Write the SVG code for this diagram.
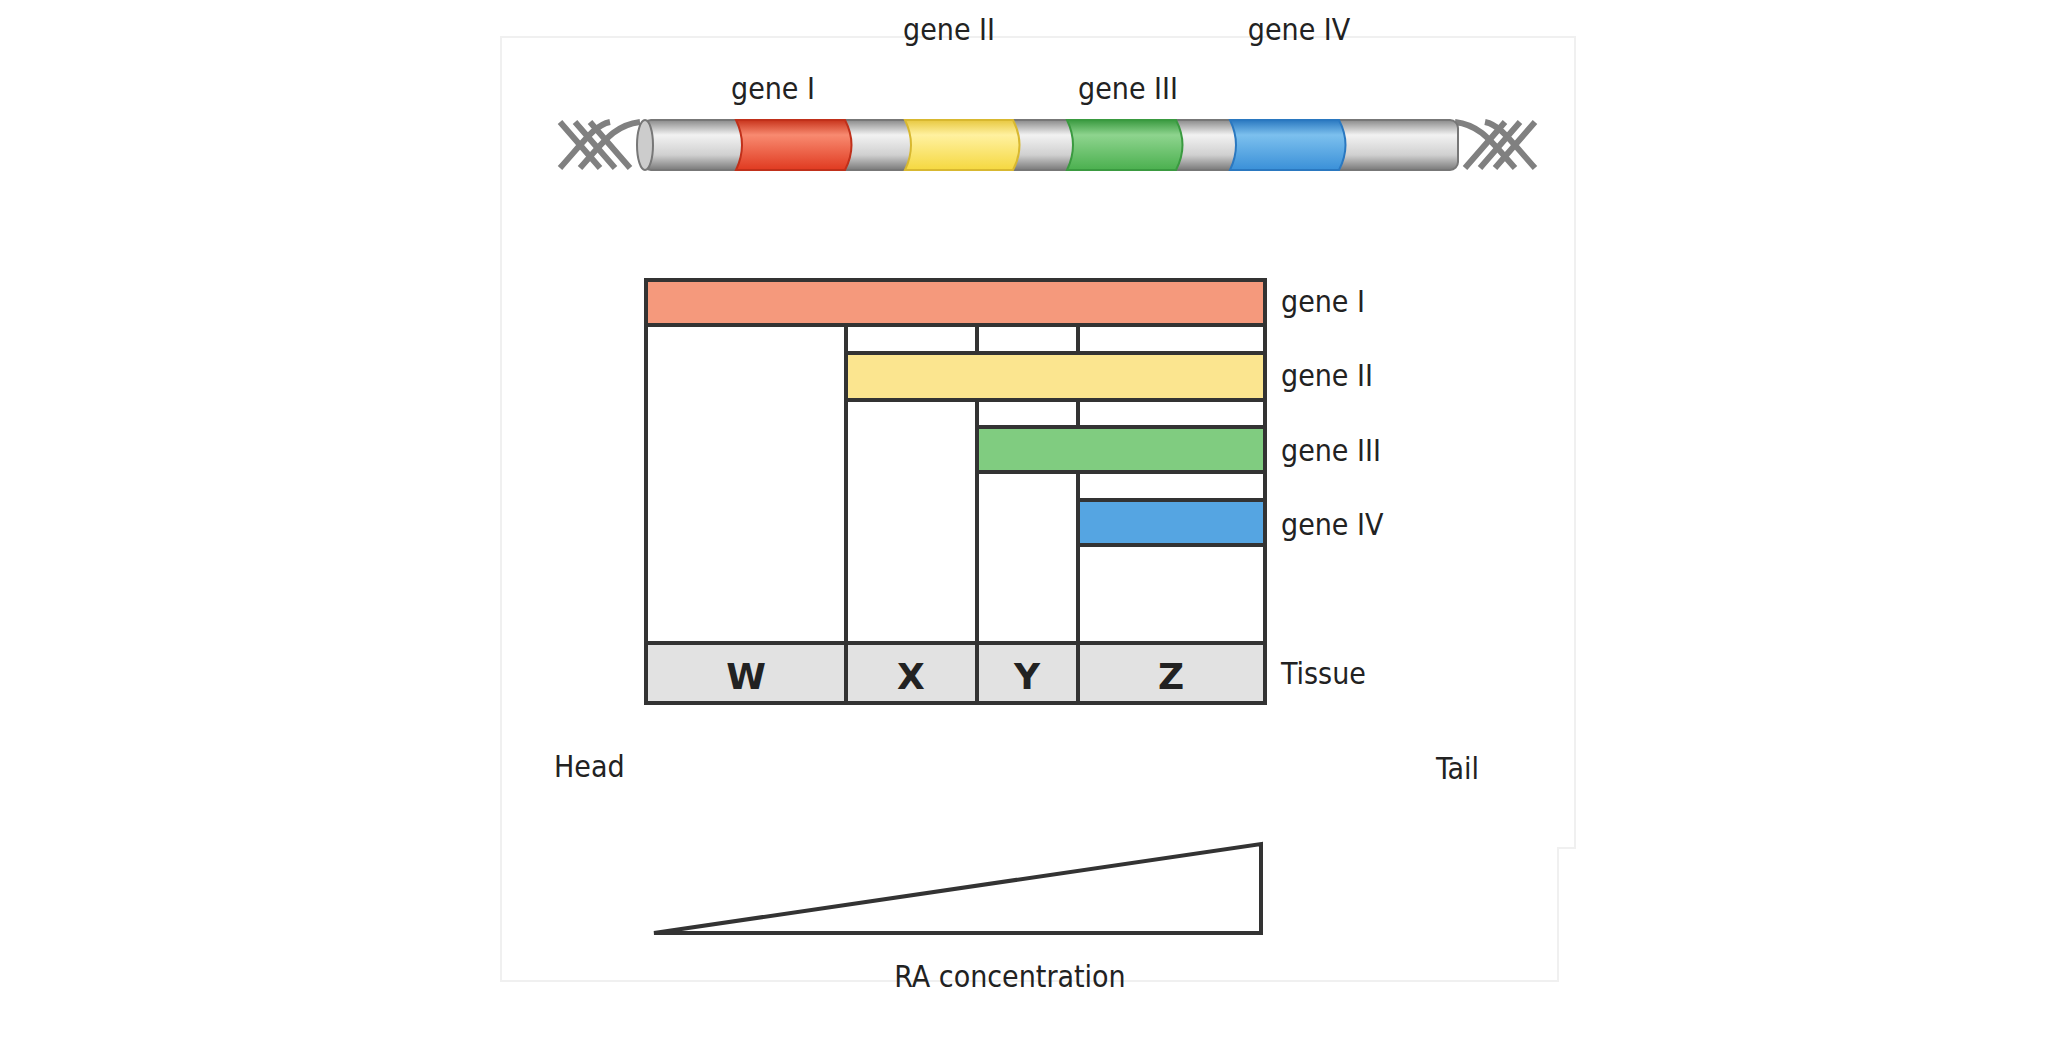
<svg xmlns="http://www.w3.org/2000/svg" width="2068" height="1050" viewBox="0 0 2068 1050">
<defs>
<linearGradient id="gGray" x1="0" y1="0" x2="0" y2="1"><stop offset="0" stop-color="#8a8a8a"/><stop offset="0.3" stop-color="#f2f2f2"/><stop offset="0.7" stop-color="#d0d0d0"/><stop offset="1" stop-color="#7a7a7a"/></linearGradient>
<linearGradient id="gRed" x1="0" y1="0" x2="0" y2="1"><stop offset="0" stop-color="#c8341c"/><stop offset="0.3" stop-color="#f88a70"/><stop offset="1" stop-color="#e03a20"/></linearGradient>
<linearGradient id="gYel" x1="0" y1="0" x2="0" y2="1"><stop offset="0" stop-color="#e8c840"/><stop offset="0.3" stop-color="#fff1a0"/><stop offset="1" stop-color="#f5d840"/></linearGradient>
<linearGradient id="gGrn" x1="0" y1="0" x2="0" y2="1"><stop offset="0" stop-color="#3a9a40"/><stop offset="0.3" stop-color="#8ed48e"/><stop offset="1" stop-color="#4bb04f"/></linearGradient>
<linearGradient id="gBlu" x1="0" y1="0" x2="0" y2="1"><stop offset="0" stop-color="#2a78c0"/><stop offset="0.3" stop-color="#7cc0ee"/><stop offset="1" stop-color="#3a90d8"/></linearGradient>
</defs>
<style>
text{font-family:"DejaVu Sans Condensed","DejaVu Sans",sans-serif;font-size:30px;fill:#222}
.b{font-family:"DejaVu Sans","Liberation Sans",sans-serif;font-weight:bold;font-size:36px;text-anchor:middle}
.c{text-anchor:middle}
.ln{stroke:#333;stroke-width:4}
.helix{stroke:#808080;stroke-width:6;fill:none}
</style>
<rect width="2068" height="1050" fill="#fff"/>
<path d="M501 37H1575V848H1558V981H501Z" fill="none" stroke="#f0f0f0" stroke-width="2"/>

<g id="chromosome">
<g class="helix">
<path d="M560 122 L600 168 M575 122 L615 168 M590 122 L630 168"/>
<path d="M560 168 C585 140 595 125 610 122 M580 168 C605 140 615 125 640 122"/>
<path d="M1535 122 L1495 168 M1520 122 L1480 168 M1505 122 L1465 168"/>
<path d="M1535 168 C1510 140 1500 125 1485 122 M1515 168 C1490 140 1480 125 1455 122"/>
</g>
<rect x="643" y="120" width="815" height="50" rx="8" fill="url(#gGray)" stroke="#777" stroke-width="2"/>
<ellipse cx="645" cy="145" rx="8" ry="25" fill="#ccc" stroke="#777" stroke-width="2"/>
<path d="M736 120H845Q858 145 845 170H736Q748 145 736 120Z" fill="url(#gRed)" stroke="#c0301a" stroke-width="2"/>
<path d="M905 120H1013Q1026 145 1013 170H905Q917 145 905 120Z" fill="url(#gYel)" stroke="#d8b830" stroke-width="2"/>
<path d="M1067 120H1176Q1189 145 1176 170H1067Q1079 145 1067 120Z" fill="url(#gGrn)" stroke="#3a9a40" stroke-width="2"/>
<path d="M1230 120H1339Q1352 145 1339 170H1230Q1242 145 1230 120Z" fill="url(#gBlu)" stroke="#2a78c0" stroke-width="2"/>
<text class="c" x="773" y="99">gene I</text>
<text class="c" x="949" y="40">gene II</text>
<text class="c" x="1128" y="99">gene III</text>
<text class="c" x="1299" y="40">gene IV</text>
</g>

<g id="grid">
<rect x="646" y="280" width="619" height="423" fill="#fff" class="ln"/>
<line class="ln" x1="846" y1="325" x2="846" y2="703"/>
<line class="ln" x1="977" y1="325" x2="977" y2="703"/>
<line class="ln" x1="1078" y1="325" x2="1078" y2="703"/>
</g>
<g id="gene1"><rect x="646" y="280" width="619" height="45" fill="#f5997c" class="ln"/><text x="1281" y="312">gene I</text></g>
<g id="gene2"><rect x="846" y="353" width="419" height="47" fill="#fbe58f" class="ln"/><text x="1281" y="386">gene II</text></g>
<g id="gene3"><rect x="977" y="427" width="288" height="45" fill="#80cc80" class="ln"/><text x="1281" y="461">gene III</text></g>
<g id="gene4"><rect x="1078" y="500" width="187" height="45" fill="#55a5e2" class="ln"/><text x="1281" y="535">gene IV</text></g>
<g id="tissue">
<rect x="646" y="643" width="619" height="60" fill="#e2e2e2" class="ln"/>
<line class="ln" x1="846" y1="643" x2="846" y2="703"/><line class="ln" x1="977" y1="643" x2="977" y2="703"/><line class="ln" x1="1078" y1="643" x2="1078" y2="703"/>
<text class="b" x="746" y="689">W</text><text class="b" x="911" y="689">X</text><text class="b" x="1027" y="689">Y</text><text class="b" x="1171" y="689">Z</text>
<text x="1281" y="684">Tissue</text>
</g>
<g id="head"><text x="554" y="777">Head</text></g>
<g id="tail"><text x="1436" y="779">Tail</text></g>
<g id="ra">
<path d="M654 933L1261 844V933Z" class="ln" fill="#fff"/>
<text class="c" x="1010" y="987">RA concentration</text>
</g>
</svg>
